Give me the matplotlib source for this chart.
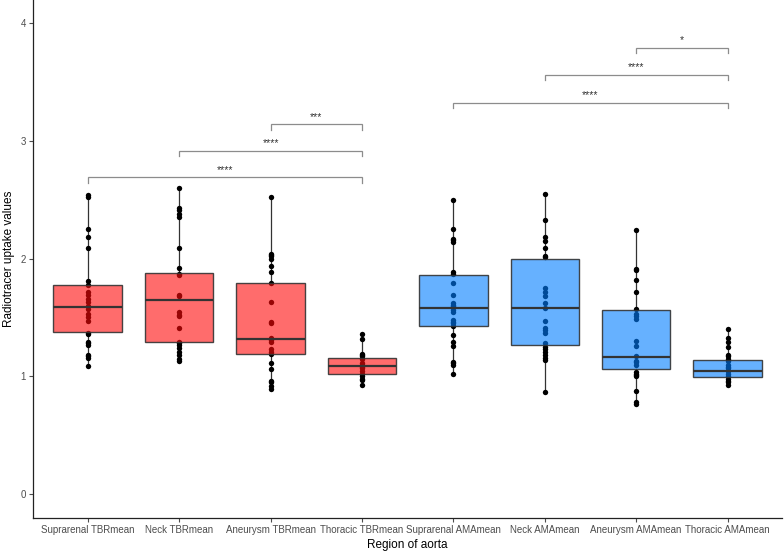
import matplotlib
matplotlib.use("Agg")
import matplotlib.pyplot as plt
import numpy as np

plt.rcParams['font.family'] = ['Liberation Sans', 'DejaVu Sans']

categories = ["Suprarenal TBRmean", "Neck TBRmean", "Aneurysm TBRmean", "Thoracic TBRmean",
              "Suprarenal AMAmean", "Neck AMAmean", "Aneurysm AMAmean", "Thoracic AMAmean"]

suprarenal_tbr = [2.54, 2.52, 2.25, 2.18, 2.09, 1.81, 1.78, 1.72, 1.69, 1.66, 1.63, 1.60, 1.57,
                  1.53, 1.50, 1.47, 1.37, 1.36, 1.29, 1.28, 1.27, 1.18, 1.17, 1.16, 1.09]
neck_tbr = [2.60, 2.43, 2.41, 2.38, 2.35, 2.09, 1.92, 1.87, 1.86, 1.69, 1.68, 1.55, 1.52, 1.51,
            1.41, 1.29, 1.28, 1.27, 1.24, 1.21, 1.18, 1.15, 1.13]
aneurysm_tbr = [2.52, 2.04, 2.03, 2.02, 2.00, 1.94, 1.89, 1.79, 1.63, 1.46, 1.45, 1.33, 1.31,
                1.29, 1.23, 1.21, 1.19, 1.11, 1.06, 0.96, 0.95, 0.92, 0.89]
thoracic_tbr = [1.36, 1.32, 1.19, 1.18, 1.17, 1.15, 1.11, 1.10, 1.08, 1.07, 1.05, 1.02, 1.00,
                0.98, 0.97, 0.93]
suprarenal_ama = [2.50, 2.25, 2.17, 2.16, 2.14, 1.89, 1.87, 1.79, 1.69, 1.62, 1.61, 1.60, 1.59,
                  1.56, 1.55, 1.48, 1.46, 1.45, 1.43, 1.35, 1.29, 1.26, 1.12, 1.11, 1.10, 1.02]
neck_ama = [2.55, 2.33, 2.18, 2.15, 2.09, 2.02, 2.01, 1.75, 1.72, 1.68, 1.62, 1.58, 1.47, 1.41,
            1.39, 1.37, 1.28, 1.25, 1.23, 1.21, 1.18, 1.16, 1.14, 0.87]
aneurysm_ama = [2.24, 1.91, 1.90, 1.82, 1.72, 1.57, 1.53, 1.51, 1.49, 1.30, 1.26, 1.17, 1.13,
                1.12, 1.10, 1.04, 1.02, 1.01, 1.00, 0.88, 0.78, 0.77]
thoracic_ama = [1.40, 1.33, 1.29, 1.25, 1.18, 1.17, 1.15, 1.13, 1.10, 1.08, 1.07, 1.05, 1.02,
                1.00, 0.98, 0.96, 0.95, 0.93]

groups = [suprarenal_tbr, neck_tbr, aneurysm_tbr, thoracic_tbr,
          suprarenal_ama, neck_ama, aneurysm_ama, thoracic_ama]

q1 = [1.375, 1.29, 1.19, 1.02, 1.43, 1.27, 1.06, 0.995]
med = [1.59, 1.645, 1.315, 1.085, 1.58, 1.58, 1.165, 1.045]
q3 = [1.775, 1.88, 1.795, 1.155, 1.86, 2.00, 1.565, 1.135]

# significance brackets: (start group, end group, height, label)
br_start = [1, 2, 3, 5, 6, 7]
br_end = [4, 4, 4, 8, 8, 8]
br_y = [2.69, 2.915, 3.14, 3.32, 3.56, 3.79]
br_lab = ["****", "****", "***", "****", "****", "*"]

red = (1.0, 0.04, 0.04)
blue = (0.0, 0.49, 1.0)
colors = [red] * 4 + [blue] * 4

fig = plt.figure(figsize=(7.84, 5.52), dpi=100)
ax = fig.add_axes([0.042, 0.062, 0.956, 0.938])

pos = np.arange(1, len(categories) + 1)

for p, g in zip(pos, groups):
    ax.scatter(np.full(len(g), p), g, s=15, color='black', zorder=1, linewidths=0)

stats = []
for i, g in enumerate(groups):
    stats.append(dict(med=med[i], q1=q1[i], q3=q3[i], whislo=min(g), whishi=max(g),
                      fliers=[], label=categories[i]))

bp = ax.bxp(stats, positions=pos, widths=0.75, patch_artist=True, showfliers=False,
            showcaps=False,
            boxprops=dict(edgecolor='#333333', linewidth=1.0),
            medianprops=dict(color='#333333', linewidth=1.6),
            whiskerprops=dict(color='#333333', linewidth=0.9),
            zorder=2)
for patch, c in zip(bp['boxes'], colors):
    patch.set_facecolor(c + (0.6,))
    patch.set_edgecolor((0.2, 0.2, 0.2, 0.9))
for w in bp['whiskers']:
    w.set_zorder(0.5)

tip = 0.045
for s, e, y, lab in zip(br_start, br_end, br_y, br_lab):
    ax.plot([s, s, e, e], [y - tip, y, y, y - tip], color='#8c8c8c', lw=0.9,
            solid_joinstyle='miter')
    ax.text((s + e) / 2, y + 0.065, lab, ha='center', va='center', fontsize=7.5,
            color='#333333')

ax.set_xlim(0.4, 8.6)
ax.set_ylim(-0.2, 4.195)
ax.set_xticks(pos)
ax.set_xticklabels(categories)
ax.set_yticks([0, 1, 2, 3, 4])
ax.tick_params(axis='both', labelsize=7, colors='#4d4d4d', length=3, width=0.8)
ax.tick_params(axis='x', pad=2)
ax.tick_params(axis='y', pad=2)
for sp in ['top', 'right']:
    ax.spines[sp].set_visible(False)
for sp in ['left', 'bottom']:
    ax.spines[sp].set_color('#222222')
    ax.spines[sp].set_linewidth(0.9)

ax.set_xlabel("Region of aorta", fontsize=8.5, color='black', labelpad=3)
ax.set_ylabel("Radiotracer uptake values", fontsize=8.5, color='black', labelpad=4)

fig.savefig("out.png", dpi=100)
